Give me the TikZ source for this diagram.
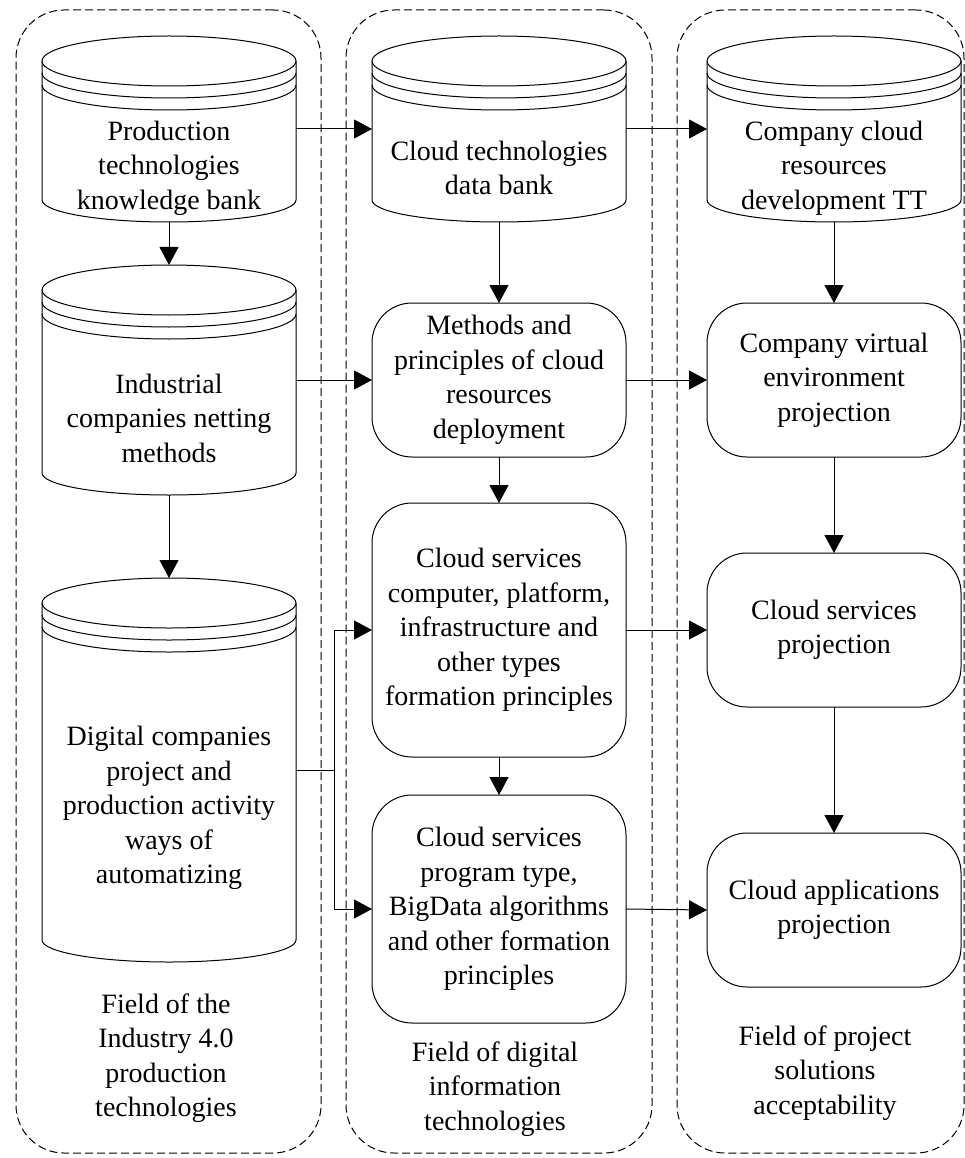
\documentclass[tikz,border=0pt]{standalone}
\usepackage{fontspec}
\setmainfont{Liberation Serif}
\usetikzlibrary{arrows.meta,calc}
\tikzset{
  txt/.style={font=\fontsize{28}{34.5}\selectfont, align=center, inner sep=0pt},
  dbnode/.style={minimum width=254pt, inner sep=0pt, outer sep=0pt, draw=none},
  rbox/.style={draw, line width=1pt, fill=white, rounded corners=40pt, minimum width=254pt,
    inner sep=0pt, outer sep=0pt, font=\fontsize{28}{34.5}\selectfont, align=center},
  field/.style={draw, line width=1pt, dash pattern=on 8pt off 4pt, rounded corners=48pt,
    inner sep=0pt, outer sep=0pt},
  arr/.style={-{Triangle[width=19pt,length=18pt]}, line width=1pt},
  ln/.style={line width=1pt},
}
\newcommand\drawdb[1]{%
  \draw[ln, fill=white]
    ([yshift=-25pt]#1.north west) -- ([yshift=22pt]#1.south west)
    arc[start angle=180,end angle=360,x radius=127pt,y radius=22pt]
    -- ([yshift=-25pt]#1.north east)
    arc[start angle=0,end angle=180,x radius=127pt,y radius=25pt] -- cycle;
  \draw[ln] ([yshift=-25pt]#1.north west) arc[start angle=180,end angle=360,x radius=127pt,y radius=25pt];
  \draw[ln] ([yshift=-37pt]#1.north west) arc[start angle=180,end angle=360,x radius=127pt,y radius=25pt];
  \draw[ln] ([yshift=-49pt]#1.north west) arc[start angle=180,end angle=360,x radius=127pt,y radius=25pt];
}
\begin{document}
\begin{tikzpicture}[x=1pt,y=-1pt]
\useasboundingbox (0,0) rectangle (965,1158);
% field containers
\node[field, minimum width=305pt, minimum height=1143pt] (f1) at (168.5,581.5) {};
\node[field, minimum width=306pt, minimum height=1143pt] (f2) at (499,581.5) {};
\node[field, minimum width=287pt, minimum height=1143pt] (f3) at (820.5,581.5) {};
\node[txt] (lf1) at (166,1058) {Field of the\\Industry 4.0\\production\\technologies};
\node[txt] (lf2) at (495,1089) {Field of digital\\information\\technologies};
\node[txt] (lf3) at (825,1073) {Field of project\\solutions\\acceptability};

% left column cylinders
\node[dbnode, minimum height=186pt] (c1) at (169,129) {};
\node[dbnode, minimum height=230pt] (c2) at (169,380) {};
\node[dbnode, minimum height=384pt] (c3) at (169,770) {};
% middle column
\node[dbnode, minimum height=186pt] (d1) at (499,129) {};
\node[rbox, minimum height=154pt] (m1) at (499,380) {Methods and\\principles of cloud\\resources\\deployment};
\node[rbox, minimum height=254pt] (m2) at (499,630) {Cloud services\\computer, platform,\\infrastructure and\\other types\\formation principles};
\node[rbox, minimum height=228pt] (m3) at (499,909) {Cloud services\\program type,\\BigData algorithms\\and other formation\\principles};
% right column
\node[dbnode, minimum height=186pt] (r1) at (834,129) {};
\node[rbox, minimum height=154pt] (v1) at (834,380) {Company virtual\\environment\\projection};
\node[rbox, minimum height=154pt] (v2) at (834,630) {Cloud services\\projection};
\node[rbox, minimum height=154pt] (v3) at (834,910) {Cloud applications\\projection};

\drawdb{c1}\drawdb{c2}\drawdb{c3}\drawdb{d1}\drawdb{r1}
\node[txt] (tc1) at ([yshift=-39pt]c1.center) {Production\\technologies\\knowledge bank};
\node[txt] (tc2) at ([yshift=-38pt]c2.center) {Industrial\\companies netting\\methods};
\node[txt] (tc3) at ([yshift=-38pt]c3.center) {Digital companies\\project and\\production activity\\ways of\\automatizing};
\node[txt] (td1) at ([yshift=-39pt]d1.center) {Cloud technologies\\data bank};
\node[txt] (tr1) at ([yshift=-39pt]r1.center) {Company cloud\\resources\\development TT};

% connectors
\draw[arr] (c1.south) -- (c2.north);
\draw[arr] (c2.south) -- (c3.north);
\draw[arr] (d1.south) -- (m1.north);
\draw[arr] (m1.south) -- (m2.north);
\draw[arr] (m2.south) -- (m3.north);
\draw[arr] (r1.south) -- (v1.north);
\draw[arr] (v1.south) -- (v2.north);
\draw[arr] (v2.south) -- (v3.north);

\draw[arr] (c1.east) -- (d1.west);
\draw[arr] (d1.east) -- (r1.west);
\draw[arr] (c2.east) -- (m1.west);
\draw[arr] (m1.east) -- (v1.west);
\draw[arr] (m2.east) -- (v2.west);
\draw[arr] (m3.east) -- (v3.west);

\coordinate (j) at (334,770);
\draw[ln] (c3.east) -- (j);
\draw[arr] (j) |- (m2.west);
\draw[arr] (j) |- (m3.west);
\end{tikzpicture}
\end{document}
